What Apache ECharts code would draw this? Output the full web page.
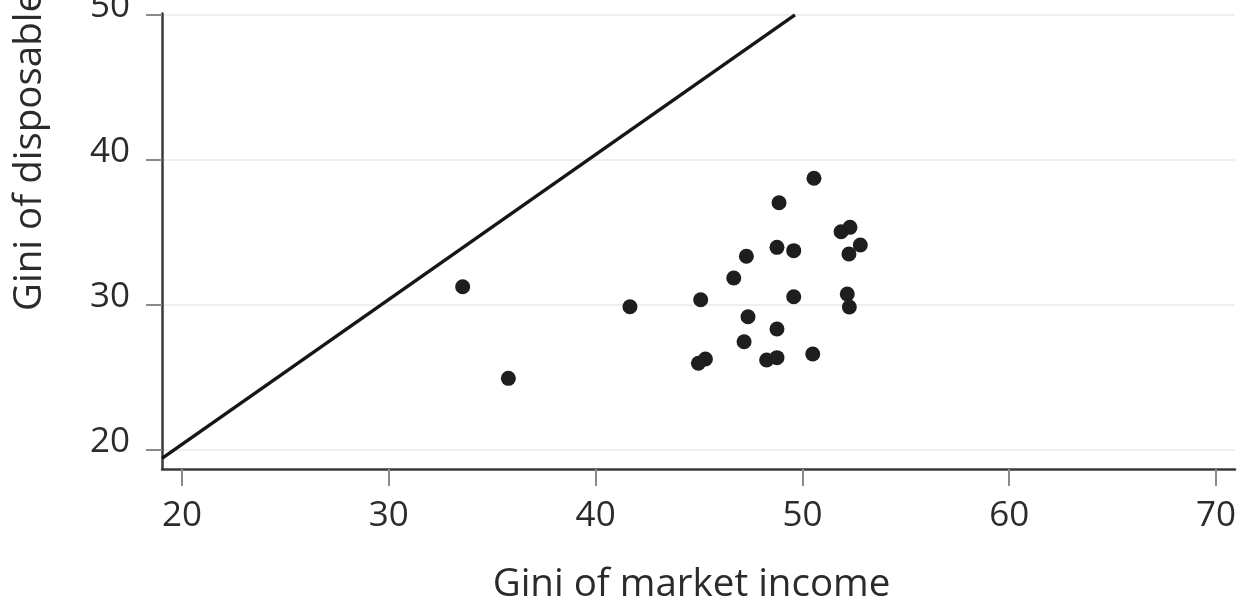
<!DOCTYPE html>
<html>
<head>
<meta charset="utf-8">
<style>
  html, body { margin: 0; padding: 0; background: #ffffff; }
  #chart { width: 1244px; height: 613px; }
</style>
<script src="https://cdn.jsdelivr.net/npm/echarts@6/dist/echarts.min.js"></script>
</head>
<body>
<div id="chart"></div>
<script>
// Gini coefficients per country: market income vs. disposable income
const marketGini = [
  33.57, 35.78, 41.66, 45.08, 44.97, 45.31, 46.68, 47.18, 47.29, 47.37,
  48.27, 48.77, 48.77, 48.77, 48.87, 49.58, 49.58, 50.50, 50.56, 51.87,
  52.30, 52.25, 52.80, 52.17, 52.27
];
const disposableGini = [
  31.23, 24.90, 29.85, 30.33, 25.94, 26.24, 31.83, 27.43, 33.33, 29.16,
  26.17, 26.33, 28.31, 33.95, 37.03, 33.72, 30.54, 26.58, 38.72, 35.03,
  35.33, 33.49, 34.11, 30.73, 29.83
];

// Reference diagonal (endpoints in data units)
const diagonalX = [19.03, 49.64];
const diagonalY = [19.38, 50.0];

// Axis ticks and ranges
const xTicks = [20, 30, 40, 50, 60, 70];
const yTicks = [20, 30, 40, 50];
const xRange = [19.03, 70.92];
const yRange = [18.64, 50.1];

const xTitle = 'Gini of market income';
const yTitle = 'Gini of disposable income';

const FONT = '"Open Sans", "Noto Sans", sans-serif';
const TEXT_COLOR = '#2b2b2b';

const points = marketGini.map((x, i) => [x, disposableGini[i]]);
const diagonal = diagonalX.map((x, i) => [x, diagonalY[i]]);

const chart = echarts.init(document.getElementById('chart'), null, { renderer: 'canvas' });

chart.setOption({
  animation: false,
  backgroundColor: '#ffffff',
  grid: {
    left: 162, right: 9, top: 13.5, bottom: 144,
    containLabel: false,
    outerBoundsMode: 'none'
  },
  xAxis: {
    type: 'value',
    min: xRange[0],
    max: xRange[1],
    name: xTitle,
    nameLocation: 'middle',
    nameGap: 97,
    nameTextStyle: { fontFamily: FONT, fontSize: 38.5, color: TEXT_COLOR, padding: [0, 14, 0, 0] },
    axisLine: { show: true, onZero: false, lineStyle: { color: '#3a3a3a', width: 2.5 } },
    axisTick: { show: true, customValues: xTicks, length: 17, lineStyle: { color: '#8a8a8a', width: 2 } },
    axisLabel: {
      customValues: xTicks, margin: 30,
      fontFamily: FONT, fontSize: 35, color: TEXT_COLOR
    },
    splitLine: { show: false }
  },
  yAxis: {
    type: 'value',
    min: yRange[0],
    max: yRange[1],
    axisLine: { show: true, onZero: false, lineStyle: { color: '#3a3a3a', width: 2.5 } },
    axisTick: { show: true, customValues: yTicks, length: 16, lineStyle: { color: '#8a8a8a', width: 2 } },
    axisLabel: {
      customValues: yTicks, margin: 32,
      // labels sit slightly above their tick marks
      formatter: (v) => '{v|' + v + '}\n{gap|}',
      rich: {
        v: { fontFamily: FONT, fontSize: 35, color: TEXT_COLOR, lineHeight: 36, align: 'right' },
        gap: { fontSize: 10, lineHeight: 15 }
      }
    },
    splitLine: { show: true, lineStyle: { color: '#efefef', width: 2 } }
  },
  graphic: [{
    type: 'text',
    x: 30,
    y: 311,
    rotation: Math.PI / 2,
    style: {
      text: yTitle,
      fontFamily: FONT,
      fontSize: 38.5,
      fill: TEXT_COLOR,
      textAlign: 'left',
      textVerticalAlign: 'middle'
    }
  }],
  series: [
    {
      type: 'line',
      data: diagonal,
      symbol: 'none',
      lineStyle: { color: '#161616', width: 3.4 },
      silent: true,
      z: 2
    },
    {
      type: 'scatter',
      data: points,
      symbolSize: 15,
      itemStyle: { color: '#1e1e1e', opacity: 1 },
      z: 3
    }
  ]
});
</script>
</body>
</html>
